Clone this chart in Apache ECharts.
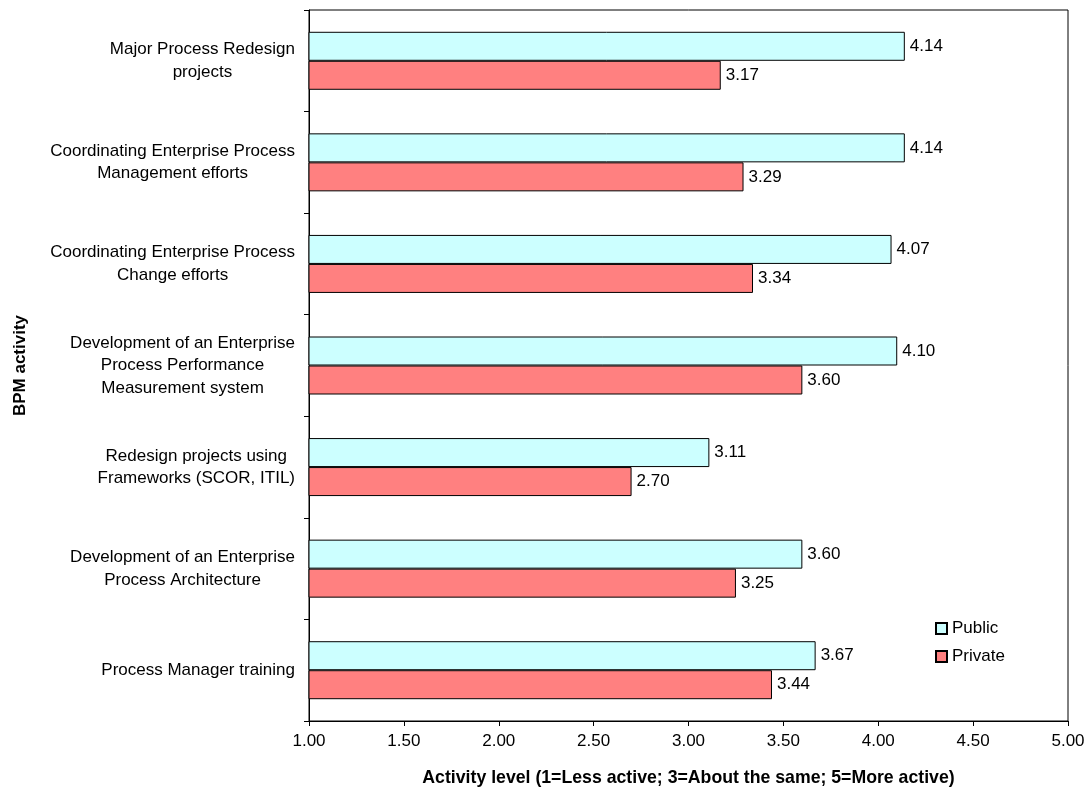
<!DOCTYPE html>
<html>
<head>
<meta charset="utf-8">
<script src="https://cdn.jsdelivr.net/npm/echarts@6/dist/echarts.min.js"></script>
<style>
  html, body { margin: 0; padding: 0; background: #fff; }
  #chart { width: 1089px; height: 792px; }
</style>
</head>
<body>
<div id="chart"></div>
<script>
// BPM activities, top to bottom, with manual line breaks
const categories = [
  'Major Process Redesign\nprojects',
  'Coordinating Enterprise Process\nManagement efforts',
  'Coordinating Enterprise Process\nChange efforts',
  'Development of an Enterprise\nProcess Performance\nMeasurement system',
  'Redesign projects using\nFrameworks (SCOR, ITIL)',
  'Development of an Enterprise\nProcess Architecture',
  'Process Manager training'
];
const publicValues  = [4.14, 4.14, 4.07, 4.10, 3.11, 3.60, 3.67];
const privateValues = [3.17, 3.29, 3.34, 3.60, 2.70, 3.25, 3.44];
const xTicks = [1.00, 1.50, 2.00, 2.50, 3.00, 3.50, 4.00, 4.50, 5.00];

const FONT = '"Liberation Sans", Arial, sans-serif';

const chart = echarts.init(document.getElementById('chart'), null, { renderer: 'canvas' });

function seriesOf(name, values, color) {
  return {
    name: name,
    type: 'bar',
    data: values,
    barWidth: 29,
    barGap: '0%',
    itemStyle: { color: color, borderColor: '#000', borderWidth: 1 },
    label: {
      show: true,
      position: 'right',
      distance: 5,
      color: '#000',
      fontFamily: FONT,
      fontSize: 17,
      formatter: p => p.value.toFixed(2)
    },
    emphasis: { disabled: true },
    animation: false
  };
}

chart.setOption({
  backgroundColor: '#fff',
  animation: false,
  textStyle: { fontFamily: FONT },
  grid: {
    left: 309, right: 21, top: 10, bottom: 70,
    show: true, borderColor: '#000', borderWidth: 1, backgroundColor: 'transparent'
  },
  legend: {
    orient: 'vertical',
    left: 930, top: 615,
    itemWidth: 11, itemHeight: 11,
    itemGap: 11,
    icon: 'rect',
    textStyle: { fontFamily: FONT, fontSize: 17, color: '#000' },
    data: ['Public', 'Private']
  },
  xAxis: {
    type: 'value',
    min: xTicks[0],
    max: xTicks[xTicks.length - 1],
    interval: 0.5,
    splitLine: { show: false },
    axisLine: { show: true, lineStyle: { color: '#000', width: 1 } },
    axisTick: { show: true, length: 5, lineStyle: { color: '#000' } },
    axisLabel: {
      color: '#000', fontFamily: FONT, fontSize: 17, margin: 12,
      formatter: v => v.toFixed(2)
    },
    name: 'Activity level (1=Less active; 3=About the same; 5=More active)',
    nameLocation: 'middle',
    nameGap: 48,
    nameTextStyle: { color: '#000', fontFamily: FONT, fontSize: 17.7, fontWeight: 'bold' }
  },
  yAxis: {
    type: 'category',
    data: categories,
    inverse: true,
    axisLine: { show: true, lineStyle: { color: '#000', width: 1 } },
    axisTick: { show: true, length: 5, lineStyle: { color: '#000' } },
    axisLabel: {
      color: '#000', fontFamily: FONT, fontSize: 17, margin: 14,
      align: 'right',
      formatter: v => v.split('\n').map(s => '{c|' + s + '}').join('\n'),
      rich: {
        c: { align: 'center', color: '#000', fontFamily: FONT, fontSize: 17, lineHeight: 22.5 }
      }
    },
    name: 'BPM activity',
    nameLocation: 'middle',
    nameGap: 280,
    nameRotate: 90,
    nameTextStyle: { color: '#000', fontFamily: FONT, fontSize: 17, fontWeight: 'bold' }
  },
  series: [
    seriesOf('Public', publicValues, '#CCFFFF'),
    seriesOf('Private', privateValues, '#FF8080')
  ]
});
</script>
</body>
</html>
